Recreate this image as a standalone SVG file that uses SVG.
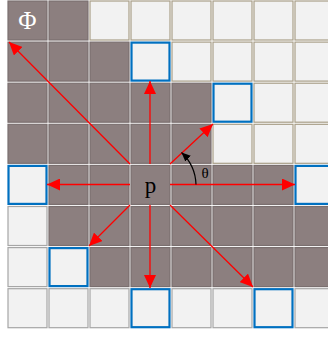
<svg xmlns="http://www.w3.org/2000/svg" width="328" height="337" viewBox="0 0 328 337">
<style>
.d{fill:#8C7F7F;stroke:#7A6F6F;stroke-width:1.2}
.lt{fill:#F2F2F2;stroke:#A89E88;stroke-width:1.2}
.lg{fill:#F2F2F2;stroke:#A6A6A6;stroke-width:1.2}
.b{fill:#F2F2F2;stroke:#0070C0;stroke-width:2.2}
.ar{stroke:#FF0000;stroke-width:1.3;fill:none;marker-end:url(#ah)}
.t{font-family:"Liberation Serif","Times New Roman",serif}
</style>
<defs>
<marker id="ah" markerUnits="userSpaceOnUse" markerWidth="14" markerHeight="12" refX="13" refY="6" orient="auto">
<path d="M0,0 L13,6 L0,12 Z" fill="#FF0000"/>
</marker>
<marker id="bh" markerUnits="userSpaceOnUse" markerWidth="10" markerHeight="8" refX="9" refY="4" orient="auto">
<path d="M0,0 L9,4 L0,8 Z" fill="#000"/>
</marker>
</defs>
<rect width="328" height="337" fill="#fff"/>
<g id="grid">
<!-- row 0 -->
<rect class="d" x="8" y="1" width="39" height="39"/>
<rect class="d" x="49" y="1" width="39" height="39"/>
<rect class="lt" x="90" y="1" width="39" height="39"/>
<rect class="lt" x="131" y="1" width="39" height="39"/>
<rect class="lt" x="172" y="1" width="39" height="39"/>
<rect class="lt" x="213" y="1" width="39" height="39"/>
<rect class="lt" x="254" y="1" width="39" height="39"/>
<rect class="lt" x="295" y="1" width="39" height="39"/>
<!-- row 1 -->
<rect class="d" x="8" y="42.1" width="39" height="39"/>
<rect class="d" x="49" y="42.1" width="39" height="39"/>
<rect class="d" x="90" y="42.1" width="39" height="39"/>
<rect class="lt" x="172" y="42.1" width="39" height="39"/>
<rect class="lt" x="213" y="42.1" width="39" height="39"/>
<rect class="lt" x="254" y="42.1" width="39" height="39"/>
<rect class="lt" x="295" y="42.1" width="39" height="39"/>
<!-- row 2 -->
<rect class="d" x="8" y="83.2" width="39" height="39"/>
<rect class="d" x="49" y="83.2" width="39" height="39"/>
<rect class="d" x="90" y="83.2" width="39" height="39"/>
<rect class="d" x="131" y="83.2" width="39" height="39"/>
<rect class="d" x="172" y="83.2" width="39" height="39"/>
<rect class="lt" x="254" y="83.2" width="39" height="39"/>
<rect class="lt" x="295" y="83.2" width="39" height="39"/>
<!-- row 3 -->
<rect class="d" x="8" y="124.3" width="39" height="39"/>
<rect class="d" x="49" y="124.3" width="39" height="39"/>
<rect class="d" x="90" y="124.3" width="39" height="39"/>
<rect class="d" x="131" y="124.3" width="39" height="39"/>
<rect class="d" x="172" y="124.3" width="39" height="39"/>
<rect class="lt" x="213" y="124.3" width="39" height="39"/>
<rect class="lt" x="254" y="124.3" width="39" height="39"/>
<rect class="lt" x="295" y="124.3" width="39" height="39"/>
<!-- row 4 -->
<rect class="d" x="49" y="165.4" width="39" height="39"/>
<rect class="d" x="90" y="165.4" width="39" height="39"/>
<rect class="d" x="131" y="165.4" width="39" height="39"/>
<rect class="d" x="172" y="165.4" width="39" height="39"/>
<rect class="d" x="213" y="165.4" width="39" height="39"/>
<rect class="d" x="254" y="165.4" width="39" height="39"/>
<!-- row 5 -->
<rect class="lg" x="8" y="206.5" width="39" height="39"/>
<rect class="d" x="49" y="206.5" width="39" height="39"/>
<rect class="d" x="90" y="206.5" width="39" height="39"/>
<rect class="d" x="131" y="206.5" width="39" height="39"/>
<rect class="d" x="172" y="206.5" width="39" height="39"/>
<rect class="d" x="213" y="206.5" width="39" height="39"/>
<rect class="d" x="254" y="206.5" width="39" height="39"/>
<rect class="d" x="295" y="206.5" width="39" height="39"/>
<!-- row 6 -->
<rect class="lg" x="8" y="247.6" width="39" height="39"/>
<rect class="d" x="90" y="247.6" width="39" height="39"/>
<rect class="d" x="131" y="247.6" width="39" height="39"/>
<rect class="d" x="172" y="247.6" width="39" height="39"/>
<rect class="d" x="213" y="247.6" width="39" height="39"/>
<rect class="d" x="254" y="247.6" width="39" height="39"/>
<rect class="d" x="295" y="247.6" width="39" height="39"/>
<!-- row 7 -->
<rect class="lg" x="8" y="288.7" width="39" height="39"/>
<rect class="lg" x="49" y="288.7" width="39" height="39"/>
<rect class="lg" x="90" y="288.7" width="39" height="39"/>
<rect class="lg" x="172" y="288.7" width="39" height="39"/>
<rect class="lg" x="213" y="288.7" width="39" height="39"/>
<rect class="lg" x="295" y="288.7" width="39" height="39"/>
</g>
<g id="targets">
<rect class="b" x="131.5" y="42.6" width="38" height="38"/>
<rect class="b" x="213.5" y="83.7" width="38" height="38"/>
<rect class="b" x="8.5" y="165.9" width="38" height="38"/>
<rect class="b" x="295.5" y="165.9" width="38" height="38"/>
<rect class="b" x="49.5" y="248.1" width="38" height="38"/>
<rect class="b" x="131.5" y="289.2" width="38" height="38"/>
<rect class="b" x="254.5" y="289.2" width="38" height="38"/>
</g>
<g id="connectors">
<line class="ar" x1="150" y1="164" x2="150" y2="81"/>
<line class="ar" x1="150" y1="205" x2="150" y2="288"/>
<line class="ar" x1="130" y1="184.5" x2="47" y2="184.5"/>
<line class="ar" x1="170" y1="184.5" x2="295" y2="184.5"/>
<line class="ar" x1="130" y1="164" x2="9" y2="42"/>
<line class="ar" x1="170" y1="164" x2="213" y2="124"/>
<line class="ar" x1="130" y1="205" x2="89" y2="246"/>
<line class="ar" x1="170" y1="205" x2="253" y2="287"/>
<path d="M196,184.5 A46,46 0 0 0 181.5,152.5" fill="none" stroke="#000" stroke-width="1.2" marker-end="url(#bh)"/>
</g>
<g id="labels">
<text class="t" x="27.5" y="28.5" font-size="25" fill="#fff" text-anchor="middle">Φ</text>
<text class="t" x="150.5" y="193" font-size="23" fill="#000" text-anchor="middle">p</text>
<text class="t" x="205" y="178" font-size="15" fill="#000" text-anchor="middle">θ</text>
</g>
</svg>
